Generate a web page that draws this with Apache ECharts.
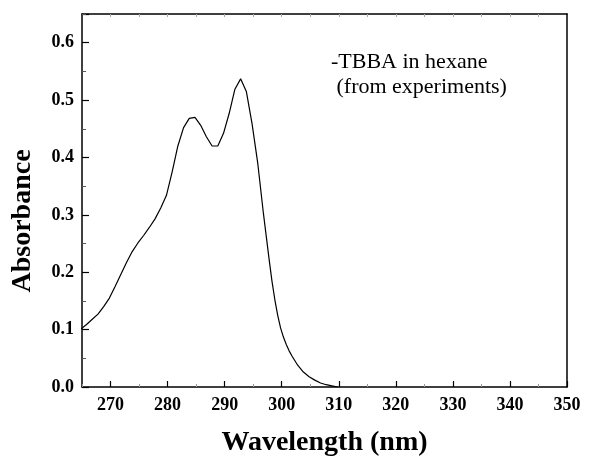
<!DOCTYPE html>
<html>
<head>
<meta charset="utf-8">
<script src="https://cdn.jsdelivr.net/npm/echarts@6/dist/echarts.min.js"></script>
<style>
html,body{margin:0;padding:0;background:#fff;}
#chart{width:601px;height:459px;}
</style>
</head>
<body>
<div id="chart"></div>
<script>
const wavelengths = [264.8,265.8,266.8,267.8,268.8,269.8,270.8,271.8,272.8,273.8,274.8,275.8,276.8,277.8,278.8,279.8,280.8,281.8,282.8,283.8,284.8,285.8,286.8,287.8,288.8,289.8,290.8,291.8,292.8,293.8,294.8,295.8,296.8,297.3,297.8,298.3,298.8,299.3,299.8,300.3,300.8,301.3,301.8,302.8,303.8,304.8,305.8,306.8,307.8,308.8,309.8];
const absorbance = [0.101,0.109,0.118,0.127,0.140,0.155,0.175,0.196,0.217,0.236,0.251,0.264,0.278,0.293,0.312,0.334,0.375,0.420,0.452,0.468,0.470,0.456,0.436,0.420,0.420,0.442,0.477,0.519,0.537,0.515,0.459,0.390,0.302,0.262,0.222,0.184,0.152,0.125,0.103,0.087,0.074,0.063,0.054,0.038,0.026,0.018,0.012,0.007,0.004,0.002,0.000];
const xMajorTicks = [270,280,290,300,310,320,330,340,350];
const xMinorTicks = [265,275,285,295,305,315,325,335,345];
const xTopTicks = [270,275,280,285,290,295,300,305,310,315,320,325,330,335,340,345];
const annotation = ['-TBBA in hexane', ' (from experiments)'];

const serif = '"Liberation Serif","Times New Roman",serif';
const chart = echarts.init(document.getElementById('chart'), null, {renderer:'canvas'});
const data = wavelengths.map((w,i)=>[w, absorbance[i]]);

chart.setOption({
  animation:false,
  backgroundColor:'#fff',
  grid:{left:82, right:34, top:14, bottom:72, containLabel:false, outerBoundsMode:'none'},
  xAxis:[
    {
      type:'value', min:265, max:350, interval:5, position:'bottom',
      axisLine:{show:true, onZero:false, lineStyle:{color:'#000', width:1.5}},
      axisTick:{show:true, inside:true, length:6, customValues:xMajorTicks, lineStyle:{color:'#000', width:1.2}},
      axisLabel:{show:true, customValues:xMajorTicks, margin:9, color:'#000', fontFamily:serif, fontWeight:'bold', fontSize:18},
      splitLine:{show:false},
      name:'Wavelength (nm)', nameLocation:'middle', nameGap:42,
      nameTextStyle:{color:'#000', fontFamily:serif, fontWeight:'bold', fontSize:28}
    },
    {
      type:'value', min:265, max:350, interval:5, position:'bottom', gridIndex:0,
      axisLine:{show:false},
      axisTick:{show:true, inside:true, length:3, customValues:xMinorTicks, lineStyle:{color:'#999', width:1}},
      axisLabel:{show:false}, splitLine:{show:false}
    },
    {
      type:'value', min:265, max:350, interval:5, position:'top', gridIndex:0,
      axisLine:{show:true, onZero:false, lineStyle:{color:'#000', width:1.5}},
      axisTick:{show:true, inside:true, length:3, customValues:xTopTicks, lineStyle:{color:'#aaa', width:1}},
      axisLabel:{show:false}, splitLine:{show:false}
    }
  ],
  yAxis:[
    {
      type:'value', min:0, max:0.65, interval:0.1, position:'left',
      axisLine:{show:true, onZero:false, lineStyle:{color:'#000', width:1.5}},
      axisTick:{show:true, inside:true, length:7, lineStyle:{color:'#000', width:1.2}},
      minorTick:{show:true, splitNumber:2, length:4, lineStyle:{color:'#555', width:1}},
      axisLabel:{show:true, margin:8, color:'#000', fontFamily:serif, fontWeight:'bold', fontSize:18,
        formatter:function(v){ const r=Math.round(v*10); return Math.abs(v*10-r)<1e-6 ? (r/10).toFixed(1) : ''; }},
      splitLine:{show:false}
    },
    {
      type:'value', min:0, max:0.65, interval:0.1, position:'right',
      axisLine:{show:true, onZero:false, lineStyle:{color:'#000', width:1.5}},
      axisTick:{show:false}, axisLabel:{show:false}, splitLine:{show:false}
    }
  ],
  graphic:[
    {type:'text', x:23, y:221, rotation:Math.PI/2,
      style:{text:'Absorbance', fill:'#000', font:'bold 28px '+serif, align:'center', verticalAlign:'middle'}},
    {type:'text', x:331, y:62,
      style:{text:annotation[0], fill:'#000', font:'22px '+serif, align:'left', verticalAlign:'middle'}},
    {type:'text', x:331, y:87,
      style:{text:annotation[1], fill:'#000', font:'22px '+serif, align:'left', verticalAlign:'middle'}}
  ],
  series:[{
    type:'line', data:data, xAxisIndex:0, yAxisIndex:0,
    showSymbol:false, symbol:'none', smooth:false, clip:true,
    lineStyle:{color:'#000', width:1.2}
  }]
});
</script>
</body>
</html>
